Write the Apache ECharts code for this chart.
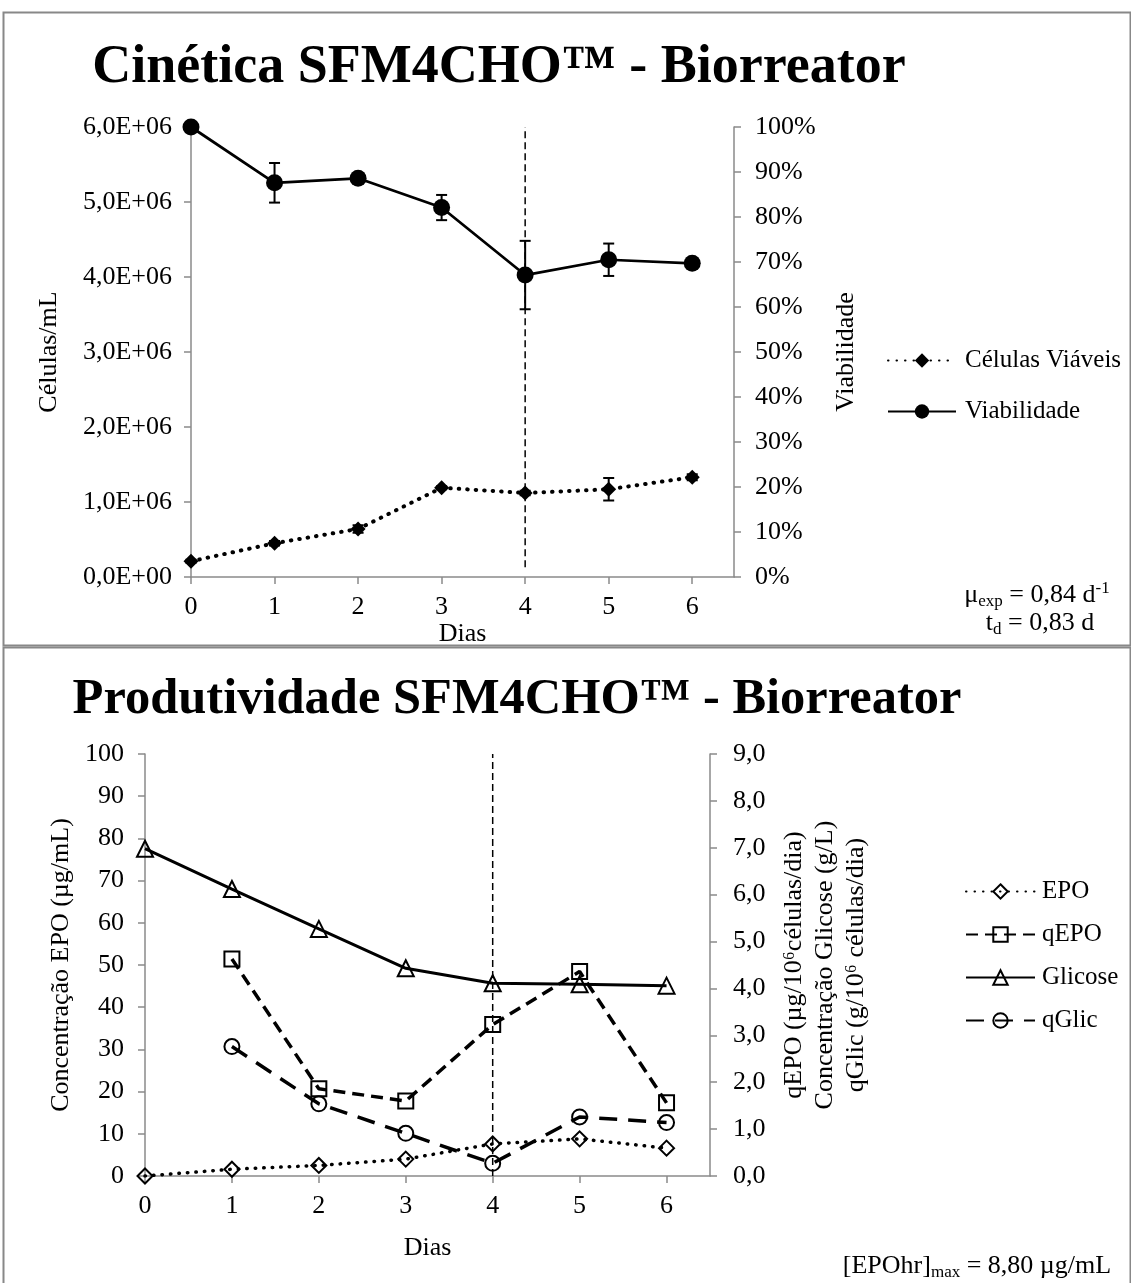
<!DOCTYPE html>
<html>
<head>
<meta charset="utf-8">
<script src="https://cdn.jsdelivr.net/npm/echarts@6/dist/echarts.min.js"></script>
<style>
  html, body { margin: 0; padding: 0; background: #fff; }
  #chart { width: 1131px; height: 1283px; }
</style>
</head>
<body>
<div id="chart"></div>
<script>
// --- data ---
const DAYS = [0, 1, 2, 3, 4, 5, 6]

// Cinética: viable cells (cells/mL) and viability (fraction), with error bars
const CELLS = [0.21e6, 0.45e6, 0.64e6, 1.19e6, 1.12e6, 1.17e6, 1.33e6]
const CELLS_ERR = [0.02e6, 0.03e6, 0.05e6, 0.02e6, 0.03e6, 0.15e6, 0.04e6]
const VIAB = [1.0, 0.876, 0.886, 0.821, 0.671, 0.705, 0.697]
const VIAB_ERR = [0, 0.044, 0, 0.028, 0.076, 0.036, 0]

// Produtividade
const EPO = [0, 1.6, 2.5, 4.0, 7.6, 8.8, 6.6]            // µg/mL, left axis
const QEPO = [null, 4.63, 1.86, 1.60, 3.23, 4.36, 1.56]  // right axis
const GLIC = [6.98, 6.12, 5.27, 4.43, 4.11, 4.09, 4.06]  // g/L, right axis
const QGLIC = [null, 2.76, 1.54, 0.91, 0.27, 1.26, 1.14] // right axis

const CUT_DAY = 4
const CUT_TOP = [0.13e6, 6e6]
const CUT_BOTTOM = [0, 9]

const SERIF = '"Liberation Serif", "Times New Roman", serif'
const GRAY = '#8a8a8a'
const TXT = { color: '#000', fontFamily: SERIF, fontSize: 26 }
const HOLLOW = { color: 'rgba(0,0,0,0)', borderColor: '#000', borderWidth: 2 }

const pairs = (ys) => DAYS.map((d, i) => [d, ys[i]]).filter(p => p[1] != null)
const errPairs = (ys, es) => DAYS.map((d, i) => [d, ys[i] - es[i], ys[i] + es[i]]).filter(p => p[2] > p[1])

function errorBar(params, api) {
  const x = api.value(0)
  const lo = api.coord([x, api.value(1)])
  const hi = api.coord([x, api.value(2)])
  const cap = 5.5
  const style = { stroke: '#000', lineWidth: 2 }
  return {
    type: 'group',
    children: [
      { type: 'line', shape: { x1: lo[0], y1: lo[1], x2: hi[0], y2: hi[1] }, style },
      { type: 'line', shape: { x1: lo[0] - cap, y1: lo[1], x2: lo[0] + cap, y2: lo[1] }, style },
      { type: 'line', shape: { x1: hi[0] - cap, y1: hi[1], x2: hi[0] + cap, y2: hi[1] }, style },
    ],
  }
}

const axisLine = { show: true, onZero: true, lineStyle: { color: GRAY, width: 1.5 } }
const axisTick = { show: true, length: 7, lineStyle: { color: GRAY, width: 1.5 } }

function dayAxis(gridIndex, margin, nameGap) {
  return {
    type: 'value', gridIndex, min: 0, max: 6.5, interval: 1,
    name: 'Dias', nameLocation: 'middle', nameGap, nameTextStyle: TXT,
    axisLine,
    axisTick: { ...axisTick, customValues: DAYS },
    axisLabel: { ...TXT, margin, customValues: DAYS, formatter: v => Number.isInteger(v) ? String(v) : '' },
    splitLine: { show: false },
  }
}

const sci = v => v === 0 ? '0,0E+00' : (v / 1e6).toFixed(1).replace('.', ',') + 'E+06'
const comma = v => v.toFixed(1).replace('.', ',')

const note = (x, y, text) => ({
  type: 'text', x, y,
  style: {
    text, align: 'center', verticalAlign: 'middle',
    rich: {
      a: { fontFamily: SERIF, fontSize: 26, lineHeight: 30, fill: '#000' },
      s: { fontFamily: SERIF, fontSize: 17, lineHeight: 17, verticalAlign: 'bottom', fill: '#000' },
      p: { fontFamily: SERIF, fontSize: 17, lineHeight: 17, verticalAlign: 'top', fill: '#000' },
    },
  },
})

const option = {
  animation: false,
  backgroundColor: '#fff',
  graphic: [
    { type: 'rect', shape: { x: 3.5, y: 12.5, width: 1127, height: 633 }, style: { fill: null, stroke: '#888', lineWidth: 2 } },
    { type: 'rect', shape: { x: 3.5, y: 647.5, width: 1127, height: 645 }, style: { fill: null, stroke: '#888', lineWidth: 2 } },
    { type: 'text', x: 499, y: 68, style: { text: 'Cinética SFM4CHO™ - Biorreator', fontFamily: SERIF, fontWeight: 'bold', fontSize: 54, fill: '#000', align: 'center', verticalAlign: 'middle' } },
    { type: 'text', x: 517, y: 700, style: { text: 'Produtividade SFM4CHO™ - Biorreator', fontFamily: SERIF, fontWeight: 'bold', fontSize: 50.5, fill: '#000', align: 'center', verticalAlign: 'middle' } },
    note(1037, 595, '{a|μ}{s|exp}{a| = 0,84 d}{p|-1}'),
    note(1040, 623, '{a|t}{s|d}{a| = 0,83 d}'),
    note(977, 1266, '{a|[EPOhr]}{s|max}{a| = 8,80 µg/mL}'),
  ],
  legend: [
    {
      data: ['Células Viáveis', 'Viabilidade'],
      orient: 'vertical', left: 882, top: 343,
      itemWidth: 68, itemHeight: 18, itemGap: 26,
      textStyle: { ...TXT, fontSize: 25, padding: [0, 0, 0, 4] },
      selectedMode: false,
    },
    {
      data: ['EPO', 'qEPO', 'Glicose', 'qGlic'],
      orient: 'vertical', left: 960, top: 874,
      itemWidth: 69, itemHeight: 18, itemGap: 18,
      textStyle: { ...TXT, fontSize: 25, padding: [0, 0, 0, 2] },
      selectedMode: false,
    },
  ],
  grid: [
    { left: 191, right: 397, top: 127, height: 450 },
    { left: 145, right: 421, top: 754, height: 422 },
  ],
  xAxis: [dayAxis(0, 17, 39), dayAxis(1, 17, 59)],
  yAxis: [
    {
      type: 'value', gridIndex: 0, position: 'left', min: 0, max: 6e6, interval: 1e6,
      name: 'Células/mL', nameLocation: 'middle', nameGap: 129, nameTextStyle: TXT,
      axisLine, axisTick, axisLabel: { ...TXT, margin: 19, formatter: sci }, splitLine: { show: false },
    },
    {
      type: 'value', gridIndex: 0, position: 'right', min: 0, max: 1, interval: 0.1,
      name: 'Viabilidade', nameLocation: 'middle', nameGap: 99, nameRotate: 90, nameTextStyle: TXT,
      axisLine, axisTick, axisLabel: { ...TXT, margin: 21, formatter: v => Math.round(v * 100) + '%' }, splitLine: { show: false },
    },
    {
      type: 'value', gridIndex: 1, position: 'left', min: 0, max: 100, interval: 10,
      name: 'Concentração EPO (µg/mL)', nameLocation: 'middle', nameGap: 71, nameTextStyle: TXT,
      axisLine, axisTick, axisLabel: { ...TXT, margin: 21 }, splitLine: { show: false },
    },
    {
      type: 'value', gridIndex: 1, position: 'right', min: 0, max: 9, interval: 1,
      name: 'qEPO (µg/10⁶células/dia)\nConcentração Glicose (g/L)\nqGlic (g/10⁶ células/dia)',
      nameLocation: 'middle', nameGap: 69, nameRotate: 90,
      nameTextStyle: { ...TXT, lineHeight: 31, align: 'center' },
      axisLine, axisTick, axisLabel: { ...TXT, margin: 23, formatter: comma }, splitLine: { show: false },
    },
  ],
  series: [
    // --- Cinética ---
    {
      name: 'Células Viáveis', type: 'line', xAxisIndex: 0, yAxisIndex: 0,
      data: pairs(CELLS),
      symbol: 'diamond', symbolSize: 15,
      lineStyle: { color: '#000', width: 4, type: [0.5, 8], cap: 'round' },
      itemStyle: { color: '#000' },
    },
    {
      name: 'Viabilidade', type: 'line', xAxisIndex: 0, yAxisIndex: 1,
      data: pairs(VIAB),
      symbol: 'circle', symbolSize: 17,
      lineStyle: { color: '#000', width: 2.75 },
      itemStyle: { color: '#000' },
    },
    {
      type: 'custom', xAxisIndex: 0, yAxisIndex: 0, renderItem: errorBar,
      data: errPairs(CELLS, CELLS_ERR), z: 3,
    },
    {
      type: 'custom', xAxisIndex: 0, yAxisIndex: 1, renderItem: errorBar,
      data: errPairs(VIAB, VIAB_ERR), z: 3,
    },
    {
      type: 'line', xAxisIndex: 0, yAxisIndex: 0, symbol: 'none', silent: true,
      data: CUT_TOP.map(v => [CUT_DAY, v]),
      lineStyle: { color: '#000', width: 1.5, type: [7, 4] }, z: 4,
    },
    // --- Produtividade ---
    {
      name: 'EPO', type: 'line', xAxisIndex: 1, yAxisIndex: 2,
      data: pairs(EPO),
      symbol: 'diamond', symbolSize: 15,
      lineStyle: { color: '#000', width: 3.5, type: [0.5, 8], cap: 'round' },
      itemStyle: HOLLOW,
    },
    {
      name: 'qEPO', type: 'line', xAxisIndex: 1, yAxisIndex: 3,
      data: pairs(QEPO),
      symbol: 'rect', symbolSize: 15,
      lineStyle: { color: '#000', width: 3.5, type: [12, 7] },
      itemStyle: HOLLOW,
    },
    {
      name: 'Glicose', type: 'line', xAxisIndex: 1, yAxisIndex: 3,
      data: pairs(GLIC),
      symbol: 'triangle', symbolSize: 16,
      lineStyle: { color: '#000', width: 3 },
      itemStyle: HOLLOW,
    },
    {
      name: 'qGlic', type: 'line', xAxisIndex: 1, yAxisIndex: 3,
      data: pairs(QGLIC),
      symbol: 'circle', symbolSize: 15,
      lineStyle: { color: '#000', width: 3.5, type: [18, 11] },
      itemStyle: HOLLOW,
    },
    {
      type: 'line', xAxisIndex: 1, yAxisIndex: 3, symbol: 'none', silent: true,
      data: CUT_BOTTOM.map(v => [CUT_DAY, v]),
      lineStyle: { color: '#000', width: 1.5, type: [7, 4] }, z: 4,
    },
  ],
}

const chart = echarts.init(document.getElementById('chart'), null, { renderer: 'canvas' })
chart.setOption(option)
</script>
</body>
</html>
